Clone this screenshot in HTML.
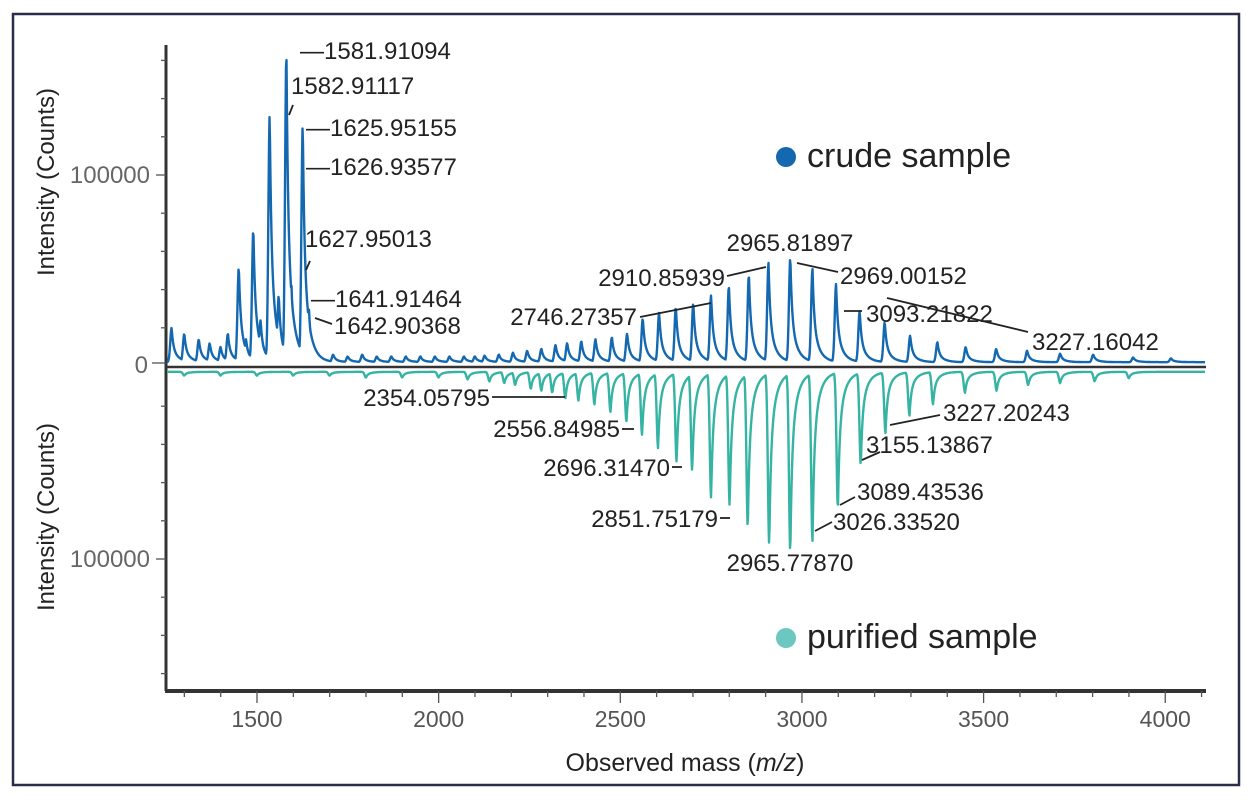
<!DOCTYPE html>
<html><head><meta charset="utf-8"><style>
html,body{margin:0;padding:0;background:#fff;}
svg{display:block;font-family:"Liberation Sans",sans-serif;}
</style></head><body>
<svg id="chart" width="1250" height="802" viewBox="0 0 1250 802">
<rect x="13" y="14" width="1226" height="771" fill="#fff" stroke="#2b2d4a" stroke-width="2.5"/>
<g id="axes"></g>
<g id="series"></g>
<g id="labels" font-size="24" fill="#222"></g>
<g>
<circle cx="786" cy="157" r="10" fill="#1468b0"/>
<text x="807" y="167" font-size="34" fill="#222">crude sample</text>
<circle cx="786" cy="638" r="10" fill="#6cc7c0"/>
<text x="807" y="648" font-size="34" fill="#222">purified sample</text>
</g>
<text transform="translate(54,182) rotate(-90)" text-anchor="middle" font-size="24" fill="#222">Intensity (Counts)</text>
<text transform="translate(54,517) rotate(-90)" text-anchor="middle" font-size="24" fill="#222">Intensity (Counts)</text>
<text x="685" y="771" text-anchor="middle" font-size="25" fill="#222">Observed mass (<tspan font-style="italic">m/z</tspan>)</text>
</svg>
<script>
const xTicks=[1500,2000,2500,3000,3500,4000];
const yTickLabelsUpper=[100000];
const yTickLabelsLower=[100000];
const crudeMass=[1265,1300,1340,1370,1400,1420,1450,1470,1490,1510,1535,1545,1560,1581,1595,1626,1637,1643,1670,1710,1750,1790,1830,1870,1910,1950,1990,2030,2070,2100,2127,2166,2205,2244,2283,2322,2354,2393,2432,2477,2519,2562,2607,2653,2701,2750,2799,2854,2908,2968,3029,3094,3159,3228,3298,3373,3451,3535,3620,3711,3802,3912,4016];
const crudeInt=[18,15,12,10,8,15,50,12,70,22,130,40,35,163,40,125,35,28,4,4,3,4,3,3,3,3,3,3,3,3,3.5,4,5,6,7,9,10,11,12,13,15,23,26,29,31,35,40,46,52,55,49,41,27,21,14,10.5,8,7,6,4.5,4,2.5,2];
const purMass=[1300,1400,1500,1600,1700,1800,1900,2000,2080,2140,2181,2211,2254,2283,2313,2349,2385,2429,2473,2517,2560,2604,2655,2698,2750,2801,2851,2910,2968,3029,3099,3162,3230,3296,3361,3449,3536,3623,3711,3806,3900];
const purInt=[2,2,2,2,2,3,3,3,4,5,6,7,9,10,11,14,15,17,21,26,33,40,47,52,66,70,82,91,95,89,72,49,32,23,17,11,10,7,6,5,3.4];
const crudeLabels=[["—1581.91094",300,59,"start"],["1582.91117",291,94,"start"],["—1625.95155",306,136,"start"],["—1626.93577",306,175,"start"],["1627.95013",305,247,"start"],["—1641.91464",311,307,"start"],["1642.90368",334,334,"start"],["2965.81897",790,251,"middle"],["2910.85939",725,286,"end"],["2969.00152",840,284,"start"],["2746.27357",637,325,"end"],["3093.21822",866,322,"start"],["3227.16042",1032,350,"start"]];
const purLabels=[["2354.05795",490,406,"end"],["2556.84985",620,437,"end"],["2696.31470",670,476,"end"],["2851.75179",718,527,"end"],["2965.77870",790,571,"middle"],["3026.33520",833,530,"start"],["3089.43536",857,500,"start"],["3155.13867",866,453,"start"],["3227.20243",943,421,"start"]];
const NS="http://www.w3.org/2000/svg";
const X0=257,XS=0.3633,Y0=367,YSU=1.91,YSL=1.91;
function xs(m){return X0+(m-1500)*XS;}
function yu(v){return Y0-1-v*YSU;}
function yl(v){return Y0+1+v*YSL;}
function mk(tag,attrs,parent){const e=document.createElementNS(NS,tag);for(const k in attrs)e.setAttribute(k,attrs[k]);parent.appendChild(e);return e;}
const axes=document.getElementById('axes');
let e=mk('line',{x1:166,y1:45,x2:166,y2:691,stroke:'#333','stroke-width':3},axes);


for(let v=20;v<=160;v+=20){
 const long=(v===100);
 e=mk('line',{x1:long?156:161,x2:166,y1:yu(v),y2:yu(v),stroke:'#555','stroke-width':1.3},axes);
 
 
 e=mk('line',{x1:long?156:161,x2:166,y1:yl(v),y2:yl(v),stroke:'#555','stroke-width':1.3},axes);
 
 
}
yTickLabelsUpper.forEach(v=>{e=mk('text',{x:150,y:yu(v/1000)+8,'text-anchor':'end','font-size':24,fill:'#666'},axes);e.textContent=String(v);
 
 });
yTickLabelsLower.forEach(v=>{e=mk('text',{x:150,y:yl(v/1000)+8,'text-anchor':'end','font-size':24,fill:'#666'},axes);e.textContent=String(v);
 
 });
e=mk('text',{x:148,y:373,'text-anchor':'end','font-size':24,fill:'#666'},axes);e.textContent='0';


mk('line',{x1:152,x2:166,y1:363,y2:363,stroke:'#555','stroke-width':1.3},axes);
e=mk('line',{x1:165,y1:691,x2:1206,y2:691,stroke:'#333','stroke-width':4},axes);


for(let m=1300;m<=4100;m+=100){
 const maj=(m%500===0);
 e=mk('line',{x1:xs(m),x2:xs(m),y1:691,y2:maj?703:697,stroke:'#555','stroke-width':1.3},axes);
 
 
}
xTicks.forEach(m=>{e=mk('text',{x:xs(m),y:727,'text-anchor':'middle','font-size':23,fill:'#555'},axes);e.textContent=String(m);
 
 });
function profile(masses,ints,yf){
 let d='';
 for(let px=167;px<=1205;px+=0.5){
  let s=0;
  for(let i=0;i<masses.length;i++){
   const dx=px-xs(masses[i]);
   if(dx<-8||dx>30)continue;
   const c=dx<0?ints[i]*Math.exp(-(dx*dx)/3.5):ints[i]*(0.55*Math.exp(-dx/1.6)+0.45*Math.exp(-dx/6));
   if(c>s)s=c;
  }
  s+=2;
  d+=(d?'L':'M')+px.toFixed(1)+' '+yf(s).toFixed(1);
 }
 return d;
}
const ser=document.getElementById('series');
e=mk('path',{d:profile(purMass,purInt,yl),fill:'none',stroke:'#35b3a3','stroke-width':2.4,'stroke-linejoin':'round'},ser);


e=mk('path',{d:profile(crudeMass,crudeInt,yu),fill:'none',stroke:'#1468b0','stroke-width':2.4,'stroke-linejoin':'round'},ser);


e=mk('line',{x1:166,x2:1206,y1:Y0,y2:Y0,stroke:'#333','stroke-width':2.5},ser);


const lg=document.getElementById('labels');
crudeLabels.forEach(l=>{e=mk('text',{x:l[1],y:l[2],'text-anchor':l[3]},lg);e.textContent=l[0];
 
 });
purLabels.forEach(l=>{e=mk('text',{x:l[1],y:l[2],'text-anchor':l[3]},lg);e.textContent=l[0];
 
 });
const leaders=[[289,115,293,105],[306,270,310,261],[315,318,332,324],[727,276,766,267],[797,263,838,272],[640,317,711,303],[844,311,862,311],[887,298,1028,332],[492,397,565,397],[622,429,634,429],[672,467,682,467],[720,518,730,518],[815,531,832,522],[840,505,855,497],[862,460,880,452],[890,425,940,415]];
leaders.forEach(p=>{e=mk('line',{x1:p[0],y1:p[1],x2:p[2],y2:p[3],stroke:'#222','stroke-width':1.8},lg);
 
 });
</script>
</body></html>
